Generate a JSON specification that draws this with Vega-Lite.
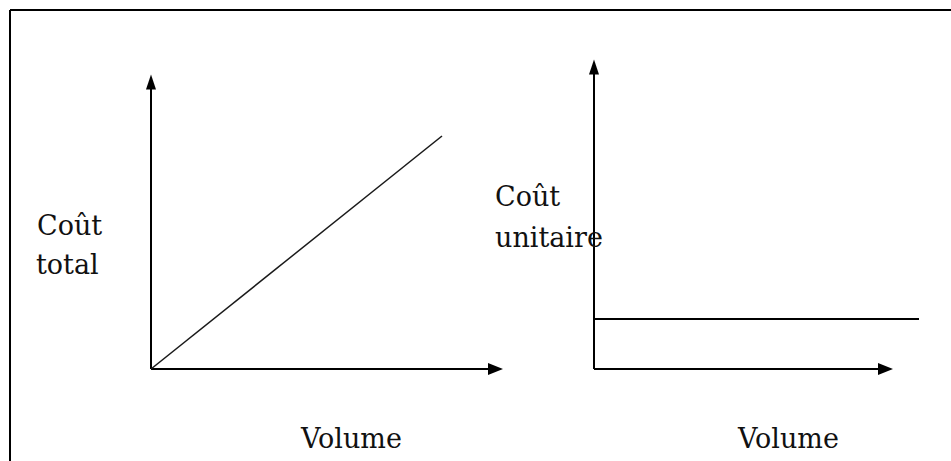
{
  "$schema": "https://vega.github.io/schema/vega-lite/v6.json",
  "width": 941,
  "height": 451,
  "padding": {"left": 10, "top": 10, "right": 0, "bottom": 0},
  "autosize": {"type": "none"},
  "background": "white",
  "config": {"view": {"stroke": null}},
  "datasets": {
    "frame": [
      {"x": 0, "y": 45.1, "x2": 94.1, "y2": 45.1},
      {"x": 0, "y": 0, "x2": 0, "y2": 45.1}
    ],
    "axes": [
      {"panel": "total", "axis": "y", "x": 14.1, "y": 9.2, "x2": 14.1, "y2": 37.9},
      {"panel": "total", "axis": "x", "x": 14.1, "y": 9.2, "x2": 48.55, "y2": 9.2},
      {"panel": "unit", "axis": "y", "x": 58.4, "y": 9.2, "x2": 58.4, "y2": 39.4},
      {"panel": "unit", "axis": "x", "x": 58.4, "y": 9.2, "x2": 87.55, "y2": 9.2}
    ],
    "arrows": [
      {"panel": "total", "dir": "up", "x": 14.1, "y": 37.9},
      {"panel": "total", "dir": "right", "x": 48.55, "y": 9.2},
      {"panel": "unit", "dir": "up", "x": 58.4, "y": 39.4},
      {"panel": "unit", "dir": "right", "x": 87.55, "y": 9.2}
    ],
    "costs": [
      {"curve": "total", "x": 14.1, "y": 9.2, "x2": 43.2, "y2": 32.5},
      {"curve": "unit", "x": 58.4, "y": 14.2, "x2": 90.9, "y2": 14.2}
    ],
    "labels": [
      {"x": 2.7, "y": 22.6, "text": "Coût"},
      {"x": 2.6, "y": 18.7, "text": "total"},
      {"x": 48.5, "y": 25.5, "text": "Coût"},
      {"x": 48.5, "y": 21.4, "text": "unitaire"},
      {"x": 29.1, "y": 1.3, "text": "Volume"},
      {"x": 72.8, "y": 1.3, "text": "Volume"}
    ]
  },
  "encoding": {
    "x": {"field": "x", "type": "quantitative", "scale": {"domain": [0, 94.1], "nice": false, "zero": false}, "axis": null},
    "y": {"field": "y", "type": "quantitative", "scale": {"domain": [0, 45.1], "nice": false, "zero": false}, "axis": null}
  },
  "layer": [
    {
      "data": {"name": "frame"},
      "mark": {"type": "rule", "color": "black", "strokeWidth": 2, "clip": false},
      "encoding": {"x2": {"field": "x2"}, "y2": {"field": "y2"}}
    },
    {
      "data": {"name": "axes"},
      "mark": {"type": "rule", "color": "black", "strokeWidth": 2},
      "encoding": {"x2": {"field": "x2"}, "y2": {"field": "y2"}}
    },
    {
      "data": {"name": "costs"},
      "transform": [{"filter": "datum.curve === 'total'"}],
      "mark": {"type": "rule", "color": "#1a1a1a", "strokeWidth": 1.5},
      "encoding": {"x2": {"field": "x2"}, "y2": {"field": "y2"}}
    },
    {
      "data": {"name": "costs"},
      "transform": [{"filter": "datum.curve === 'unit'"}],
      "mark": {"type": "rule", "color": "black", "strokeWidth": 2},
      "encoding": {"x2": {"field": "x2"}, "y2": {"field": "y2"}}
    },
    {
      "data": {"name": "arrows"},
      "mark": {"type": "point", "filled": true, "color": "black", "opacity": 1, "size": 225},
      "encoding": {
        "shape": {
          "field": "dir",
          "type": "nominal",
          "scale": {"domain": ["up", "right"], "range": ["M0,-1L0.667,1L-0.667,1Z", "M1,0L-1,0.8L-1,-0.8Z"]},
          "legend": null
        }
      }
    },
    {
      "data": {"name": "labels"},
      "mark": {"type": "text", "align": "left", "baseline": "alphabetic", "font": "DejaVu Serif", "fontSize": 27, "color": "#111111"},
      "encoding": {"text": {"field": "text"}}
    }
  ]
}
